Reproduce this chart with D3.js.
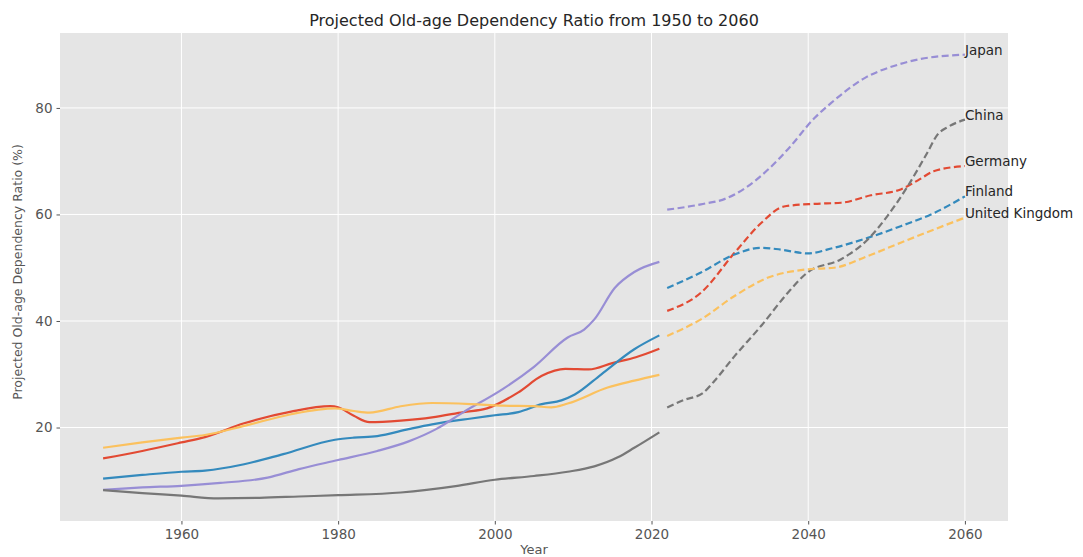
<!DOCTYPE html>
<html><head><meta charset="utf-8">
<script src="https://cdn.jsdelivr.net/npm/d3@7"></script>
<style>body{margin:0;background:#fff;} text{font-family:"DejaVu Sans",sans-serif;}</style>
</head><body>
<svg id="chart" width="1083" height="557"></svg>
<script>
const countries = ["Germany","Finland","Japan","China","United Kingdom"];
const colors = ["#E24A33","#348ABD","#988ED5","#777777","#FBC15E"];
const xTicks = [1960,1980,2000,2020,2040,2060];
const yTicks = [20,40,60,80];

// historical [year, value]
const germanyHist = [[1950,14.2],[1955,15.6],[1960,17.2],[1963,18.2],[1968,20.8],[1974,23.0],[1979,24.0],[1980,23.8],[1982,22.2],[1984,21.0],[1988,21.3],[1992,21.9],[1996,22.9],[1999,23.6],[2003,26.6],[2006,29.7],[2009,31.0],[2012,30.9],[2015,32.1],[2018,33.2],[2021,34.8]];
const finlandHist = [[1950,10.4],[1955,11.1],[1960,11.7],[1963,11.9],[1968,13.1],[1973,15.0],[1979.6,17.7],[1982,18.1],[1985,18.4],[1989,19.7],[1992,20.6],[1997,21.7],[2000,22.3],[2003,22.9],[2006,24.4],[2008.5,25.1],[2010.2,26.2],[2013.6,30.0],[2017.8,34.7],[2021,37.3]];
const japanHist = [[1950,8.3],[1955,8.75],[1960,9.06],[1965,9.6],[1971,10.6],[1975,12.2],[1980,13.9],[1985,15.6],[1989,17.4],[1992.5,19.7],[1996,22.9],[2001,27.2],[2005,31.4],[2009.3,36.9],[2011.4,38.4],[2012.7,40.3],[2015.3,46.2],[2017.8,49.2],[2021,51.1]];
const chinaHist = [[1950,8.24],[1955,7.7],[1960,7.2],[1964.7,6.7],[1970,6.8],[1975,7.05],[1980,7.3],[1988,7.8],[1995,9.0],[2000,10.2],[2005,10.9],[2009.3,11.7],[2012.7,12.7],[2015.7,14.4],[2017.8,16.2],[2021,19.1]];
const ukHist = [[1950,16.2],[1955,17.2],[1960,18.1],[1963,18.6],[1968,20.3],[1974,22.5],[1979.6,23.6],[1982,23.1],[1984,22.8],[1988,24.0],[1992,24.6],[1997,24.4],[2001,24.1],[2005,24.0],[2007.2,23.8],[2009.3,24.5],[2014.4,27.5],[2017.8,28.8],[2021,29.9]];

// projections [year, value]
const germanyProj = [[2022,41.9],[2026.3,45.3],[2030.6,52.8],[2034,58.4],[2036.9,61.5],[2040.8,62.0],[2044.2,62.2],[2048,63.6],[2051.8,64.7],[2054,66.4],[2056,68.1],[2060,69.1]];
const finlandProj = [[2022,46.2],[2026.3,49.1],[2030.6,52.5],[2034,53.75],[2036.5,53.4],[2039.9,52.7],[2043.3,53.75],[2047.6,55.6],[2051.8,57.8],[2056.1,60.3],[2060,63.4]];
const japanProj = [[2022,60.9],[2026.3,61.9],[2029.5,63.0],[2032,65.0],[2035,68.6],[2037.5,72.4],[2040.8,78.1],[2042.9,80.9],[2047.2,85.6],[2051.4,88.1],[2054.4,89.2],[2060,90.0]];
const chinaProj = [[2022,23.75],[2024.2,25.2],[2026.5,26.4],[2028,28.7],[2030.6,33.4],[2034,39.1],[2037.4,45.3],[2039.9,49.1],[2044.2,51.6],[2047.6,55.3],[2050.1,59.7],[2052.7,65.3],[2055.2,71.6],[2056.5,75.0],[2057.8,76.4],[2060,77.8]];
const ukProj = [[2022,37.2],[2026.3,40.3],[2030.6,44.7],[2034.8,48.1],[2039.9,49.7],[2043.3,50.0],[2047.6,52.2],[2051.8,54.7],[2056.1,57.2],[2060,59.4]];

const hist = [germanyHist, finlandHist, japanHist, chinaHist, ukHist];
const proj = [germanyProj, finlandProj, japanProj, chinaProj, ukProj];

const svg = d3.select("#chart");
const L = 60, R = 1008, T = 33, B = 521;
const x = d3.scaleLinear().domain([1944.5, 2065.5]).range([L, R]);
const y = d3.scaleLinear().domain([2.45, 94.07]).range([B, T]);

svg.append("rect").attr("x", L).attr("y", T).attr("width", R - L).attr("height", B - T).attr("fill", "#E5E5E5");

// grid
const g = svg.append("g");
g.selectAll(".vg").data(xTicks).enter().append("line")
  .attr("x1", d => x(d)).attr("x2", d => x(d)).attr("y1", T).attr("y2", B)
  .attr("stroke", "#fff").attr("stroke-width", 1);
g.selectAll(".hg").data(yTicks).enter().append("line")
  .attr("y1", d => y(d)).attr("y2", d => y(d)).attr("x1", L).attr("x2", R)
  .attr("stroke", "#fff").attr("stroke-width", 1);

// axes
const xAxis = d3.axisBottom(x).tickValues(xTicks).tickFormat(d3.format("d")).tickSize(3.5).tickPadding(5);
const yAxis = d3.axisLeft(y).tickValues(yTicks).tickSize(3.5).tickPadding(4);
const gx = svg.append("g").attr("transform", `translate(0,${B})`).call(xAxis);
const gy = svg.append("g").attr("transform", `translate(${L},0)`).call(yAxis);
[gx, gy].forEach(a => {
  a.select(".domain").remove();
  a.selectAll("line").attr("stroke", "#555");
  a.selectAll("text").attr("fill", "#555").style("font-size", "13.5px").style("font-family", "DejaVu Sans");
});

const line = d3.line().x(d => x(d[0])).y(d => y(d[1])).curve(d3.curveMonotoneX);

hist.forEach((h, i) => {
  svg.append("path").attr("d", line(h)).attr("fill", "none")
    .attr("stroke", colors[i]).attr("stroke-width", 2.2).attr("stroke-linecap", "butt");
});
proj.forEach((p, i) => {
  svg.append("path").attr("d", line(p)).attr("fill", "none")
    .attr("stroke", colors[i]).attr("stroke-width", 2.2).attr("stroke-dasharray", "7,3.5");
});

// end labels
proj.forEach((p, i) => {
  const last = p[p.length - 1];
  svg.append("text").attr("x", x(last[0])).attr("y", y(last[1]))
    .attr("fill", "#262626").style("font-size", "13.5px").text(countries[i]);
});

// title & axis labels
svg.append("text").attr("x", (L + R) / 2).attr("y", 26).attr("text-anchor", "middle")
  .attr("fill", "#262626").style("font-size", "16px").text("Projected Old-age Dependency Ratio from 1950 to 2060");
svg.append("text").attr("x", (L + R) / 2).attr("y", 554).attr("text-anchor", "middle")
  .attr("fill", "#555").style("font-size", "13px").text("Year");
svg.append("text").attr("transform", `translate(22,272) rotate(-90)`).attr("text-anchor", "middle")
  .attr("fill", "#555").style("font-size", "12.5px").text("Projected Old-age Dependency Ratio (%)");
</script>
</body></html>
